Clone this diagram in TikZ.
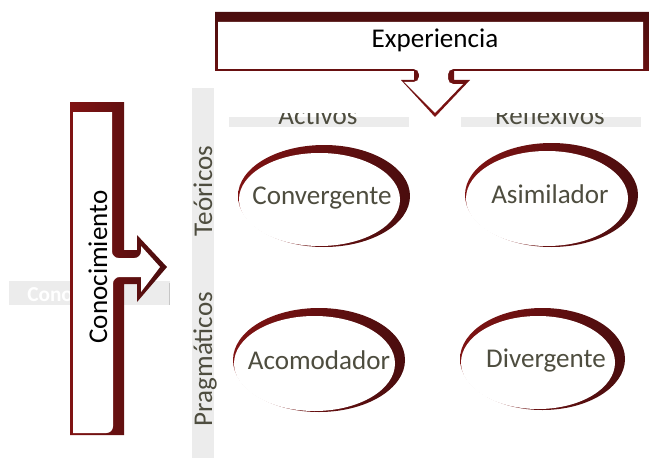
\documentclass[tikz,border=0pt]{standalone}
\usepackage{fontspec}
\setmainfont{Carlito}
\definecolor{rim}{HTML}{801313}
\definecolor{rimdark}{HTML}{4A0D0E}
\definecolor{barfill}{HTML}{ECECEC}
\definecolor{labelgray}{HTML}{4E4D3F}
\begin{document}
\begin{tikzpicture}[x=0.75pt,y=-0.75pt,
  lbl/.style={font=\fontsize{20.3}{24}\selectfont,text=labelgray,inner sep=0pt},
  callout/.style={font=\fontsize{20.3}{24}\selectfont,text=black,inner sep=0pt},
  ring/.style={left color=rim,right color=rimdark}]
\useasboundingbox (0,0) rectangle (649,460);
\clip (0,0) rectangle (649,460);

\fill[barfill] (192,88) rectangle (214,458);
\fill[barfill] (229,117) rectangle (409,127);
\fill[barfill] (461,117) rectangle (641,127);
\fill[barfill] (9,281) rectangle (170,305);
\draw[gray!45] (169,283) -- (169,305);
\begin{scope}
\clip (0,270) rectangle (100,310);
\node[anchor=base west,font=\fontsize{16}{18}\selectfont\bfseries,text=white,inner sep=0pt] (hid) at (27,301) {Conocimiento};
\end{scope}

\begin{scope}
\clip (0,113) rectangle (649,140);
\node[lbl,anchor=base] (act) at (318,124.5) {Activos};
\node[lbl,anchor=base] (ref) at (550,124.5) {Reflexivos};
\end{scope}

\node[lbl,rotate=90,anchor=base] (teo) at (212,191) {Teóricos};
\node[lbl,rotate=90,anchor=base] (pra) at (212,359) {Pragmáticos};

\shade[top color=rimdark,bottom color=rim] (215,12) -- (649,12) -- (649,71) -- (454,71) -- (454,80) -- (470,80) -- (435,117) -- (401,80) -- (414,80) -- (414,71) -- (215,71) -- cycle;
\fill[white] (218,22) -- (643,22) -- (643,69) [rounded corners=4] -- (448,69) -- (448,84) [sharp corners] -- (463,84) -- (435,113) -- (404,82) [rounded corners=4] -- (419,82) -- (419,69) [sharp corners] -- (218,69) -- cycle;
\node[callout,anchor=base] (exp) at (435,48) {Experiencia};

\shade[left color=rim,right color=rimdark] (70,102) -- (124,102) -- (124,250) -- (137,250) -- (137,235) -- (167,267) -- (137,302) -- (137,284) -- (124,284) -- (124,435) -- (70,435) -- cycle;
\fill[white] (73,112) -- (112,112) [rounded corners=5] -- (112,258) -- (141,258) [sharp corners] -- (141,246) -- (160,267) -- (141,292) -- (141,277) [rounded corners=5] -- (113,277) -- (113,433) [sharp corners] -- (73,433) -- cycle;
\node[callout,rotate=90,anchor=base] (con) at (107,267) {Conocimiento};

\shade[ring] (324,196) ellipse [x radius=86,y radius=51];
\fill[white] (319.5,199.5) ellipse [x radius=80.5,y radius=46.5];
\node[lbl,anchor=base] (conv) at (322,204) {Convergente};

\shade[ring] (551.5,195) ellipse [x radius=86.5,y radius=52];
\fill[white] (547,198.5) ellipse [x radius=81,y radius=47.5];
\node[lbl,anchor=base] (asim) at (550,203) {Asimilador};

\shade[ring] (319,360) ellipse [x radius=86,y radius=52];
\fill[white] (314.5,363.5) ellipse [x radius=80.5,y radius=47.5];
\node[lbl,anchor=base] (acom) at (319,369) {Acomodador};

\shade[ring] (542.5,359) ellipse [x radius=82.5,y radius=51];
\fill[white] (538,362.5) ellipse [x radius=77,y radius=46.5];
\node[lbl,anchor=base] (div) at (546,367) {Divergente};
\end{tikzpicture}
\end{document}
